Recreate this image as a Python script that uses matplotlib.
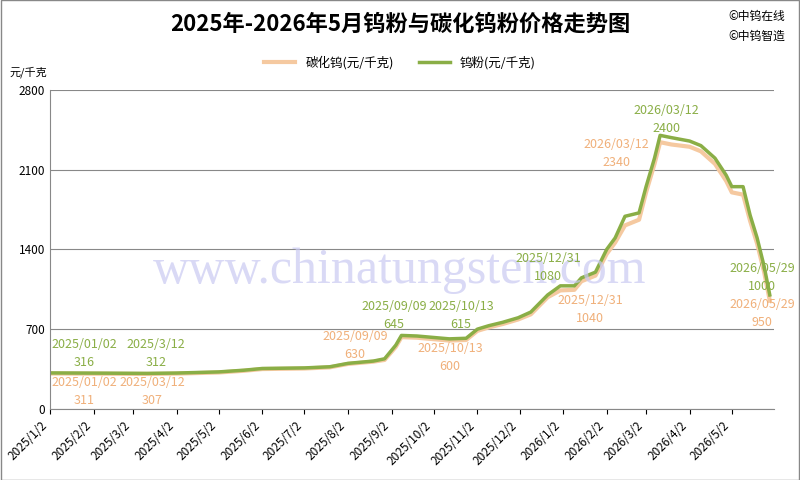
import matplotlib
matplotlib.use("Agg")
import matplotlib.pyplot as plt
import pandas as pd

plt.rcParams['font.family'] = ['Noto Sans CJK SC', 'DejaVu Sans']

dates = ["2025-01-02","2025-02-10","2025-03-12","2025-04-02","2025-05-02","2025-05-20","2025-06-02","2025-07-02",
         "2025-07-20","2025-08-02","2025-08-20","2025-08-28","2025-09-05","2025-09-09","2025-09-20","2025-10-13","2025-10-25",
         "2025-11-02","2025-11-10","2025-11-20","2025-12-01","2025-12-10","2025-12-22","2025-12-31","2026-01-10",
         "2026-01-15","2026-01-25","2026-02-02","2026-02-08","2026-02-15","2026-02-25","2026-03-02","2026-03-08",
         "2026-03-12","2026-03-20","2026-04-02","2026-04-10","2026-04-20","2026-04-28","2026-05-02","2026-05-10",
         "2026-05-15","2026-05-20","2026-05-25","2026-05-29"]
powder = [316,314,312,315,325,340,355,360,370,400,420,440,560,645,640,615,620,700,730,760,800,850,1000,1080,1080,
          1150,1200,1400,1500,1690,1720,1950,2200,2400,2380,2350,2310,2200,2050,1950,1950,1700,1500,1250,1000]
carbide = [311,309,307,310,320,335,350,355,365,395,415,430,545,630,625,600,605,685,715,745,785,830,980,1040,1045,
           1120,1170,1360,1460,1610,1660,1900,2150,2340,2320,2300,2260,2150,2000,1900,1880,1650,1450,1200,950]
yticks = [0,700,1400,2100,2800]
xticks = ["2025-01-02","2025-02-02","2025-03-02","2025-04-02","2025-05-02","2025-06-02","2025-07-02","2025-08-02",
          "2025-09-02","2025-10-02","2025-11-02","2025-12-02","2026-01-02","2026-02-02","2026-03-02","2026-04-02","2026-05-02"]

d = pd.to_datetime(dates)
GREEN = "#8aae46"; ORANGE = "#f5c9a0"; OT = "#f0b07a"

fig = plt.figure(figsize=(8, 4.8), dpi=100)
ax = fig.add_axes([0.0625, 0.148, 0.905, 0.665])
fig.text(0.5, 0.435, "www.chinatungsten.com", ha='center', va='center', fontsize=36, family='Liberation Serif',
         color='#c9c9f2', alpha=0.7, zorder=0)
ax.set_facecolor('none')
ax.plot(d, carbide, color=ORANGE, lw=3, label="碳化钨(元/千克)")
ax.plot(d, powder, color=GREEN, lw=2.5, label="钨粉(元/千克)")
ax.set_ylim(0, 2800)
ax.set_yticks(yticks)
ax.set_xlim(pd.Timestamp("2025-01-02"), pd.Timestamp("2026-06-01"))
xt = pd.to_datetime(xticks)
ax.set_xticks(xt)
ax.set_xticklabels([f"{t.year}/{t.month}/{t.day}" for t in xt], rotation=45, ha="right", fontsize=8.5)
ax.tick_params(axis='y', labelsize=8.5, length=0)
ax.grid(axis='y', color='#888888', lw=0.8)
for s in ["top", "right"]:
    ax.spines[s].set_visible(False)
ax.spines['left'].set_color('#888888'); ax.spines['bottom'].set_color('#888888')

def ann(px, py, text, color):
    fig.text(px / 800, 1 - py / 480, text, color=color, fontsize=9, ha='center', va='center', linespacing=1.5)

ann(84, 354, "2025/01/02\n316", GREEN)
ann(84, 392, "2025/01/02\n311", OT)
ann(156, 354, "2025/3/12\n312", GREEN)
ann(152, 391, "2025/03/12\n307", OT)
ann(394, 315, "2025/09/09\n645", GREEN)
ann(355, 346, "2025/09/09\n630", OT)
ann(461, 316, "2025/10/13\n615", GREEN)
ann(450, 358, "2025/10/13\n600", OT)
ann(548, 268, "2025/12/31\n1080", GREEN)
ann(590, 310, "2025/12/31\n1040", OT)
ann(666, 120, "2026/03/12\n2400", GREEN)
ann(616, 154, "2026/03/12\n2340", OT)
ann(762, 277, "2026/05/29\n1000", GREEN)
ann(762, 314, "2026/05/29\n950", OT)

fig.text(0.5, 0.95, "2025年-2026年5月钨粉与碳化钨粉价格走势图", ha='center', va='center', fontsize=16, fontweight='bold')
fig.text(0.91, 0.965, "©中钨在线", fontsize=8.5, va='center')
fig.text(0.91, 0.925, "©中钨智造", fontsize=8.5, va='center')
fig.text(0.012, 0.85, "元/千克", fontsize=8, va='center')
fig.legend(loc='center', bbox_to_anchor=(0.5, 0.87), ncol=2, frameon=False, fontsize=9, handlelength=2.5)
fig.patches.append(plt.Rectangle((0.001, 0.001), 0.998, 0.998, transform=fig.transFigure, fill=False, ec='#888888', lw=1))
fig.savefig("out.png", dpi=100)
